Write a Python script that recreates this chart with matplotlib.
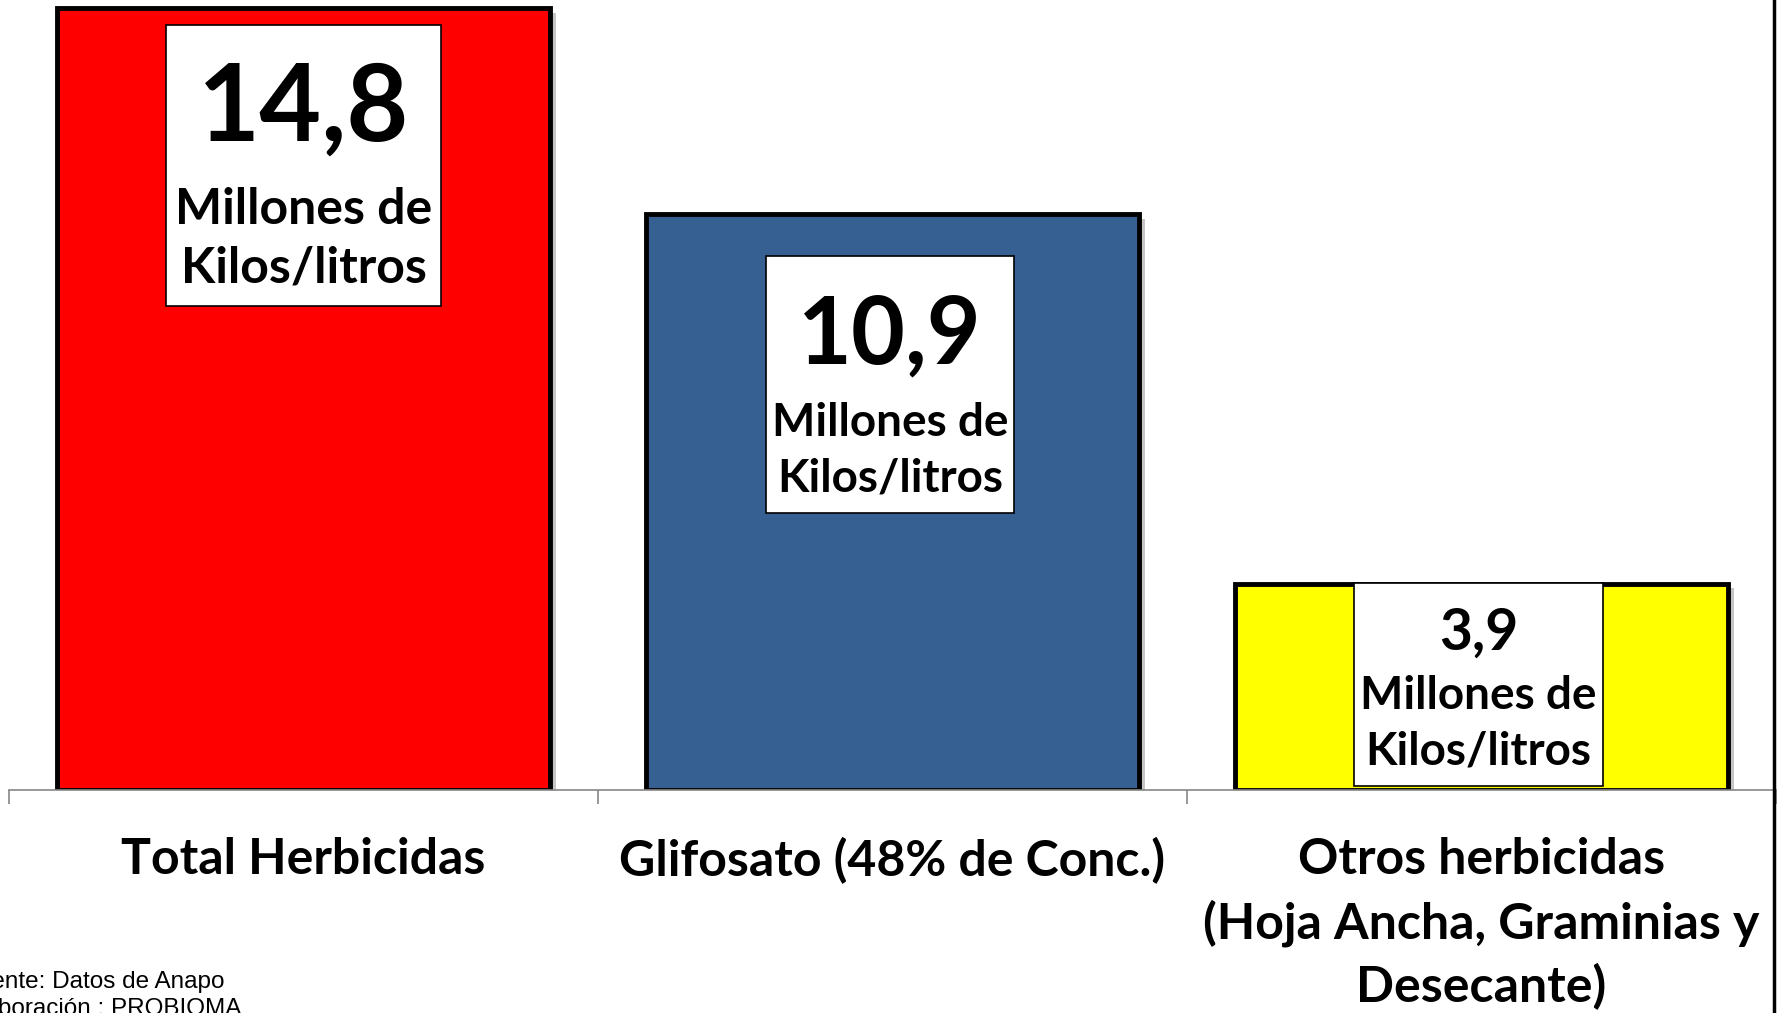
import matplotlib
matplotlib.use('Agg')
import matplotlib.pyplot as plt
import matplotlib.patheffects as pe
from matplotlib.patches import Rectangle
from matplotlib.lines import Line2D

# data (millions of kilos/litres)
categories = ['Total Herbicidas', 'Glifosato (48% de Conc.)',
              'Otros herbicidas\n(Hoja Ancha, Graminias y\nDesecante)']
values = [14.8, 10.9, 3.9]
value_labels = ['14,8', '10,9', '3,9']
unit_label = 'Millones de\nKilos/litros'
colors = ['#FF0000', '#376092', '#FFFF00']

# layout of the white label boxes (data coords): x half-width, y bottom, y top
box_halfw = [0.233, 0.210, 0.211]
box_xshift = [0.0, -0.004, -0.005]
box_y = [(9.17, 14.49), (5.25, 10.11), (0.08, 3.92)]
num_y = [12.89, 8.58, 2.97]
num_size = [77, 67, 41]
unit_y = [10.44, 6.42, 1.25]
unit_size = [36, 33, 33]
unit_spacing = [1.38, 1.40, 1.40]

FONT = 'Lato'

fig = plt.figure(figsize=(17.79, 10.13), dpi=100)
ax = fig.add_axes([9 / 1779, 223 / 1013, 1767 / 1779, 790 / 1013])

x = list(range(len(values)))
bars = ax.bar(x, values, width=0.837, color=colors, edgecolor='black', linewidth=3.5, zorder=2)
for b in bars:
    b.set_path_effects([pe.SimplePatchShadow(offset=(4, -3), shadow_rgbFace='#808080', alpha=0.45),
                        pe.Normal()])

for i in x:
    cx = i + box_xshift[i]
    y0, y1 = box_y[i]
    ax.add_patch(Rectangle((cx - box_halfw[i], y0), 2 * box_halfw[i], y1 - y0,
                           facecolor='white', edgecolor='black', linewidth=1.2, zorder=3))
    ax.text(cx, num_y[i], value_labels[i], ha='center', va='center', fontsize=num_size[i],
            fontweight='bold', family=FONT, zorder=4)
    ax.text(cx, unit_y[i], unit_label, ha='center', va='center', fontsize=unit_size[i],
            fontweight='bold', family=FONT, linespacing=unit_spacing[i], zorder=4)

ax.set_xlim(-0.5, 2.5)
ax.set_ylim(0, 14.96)
ax.set_yticks([])
for s in ['top', 'right', 'left']:
    ax.spines[s].set_visible(False)
ax.spines['bottom'].set_color('#868686')
ax.spines['bottom'].set_linewidth(1.2)

ax.set_xticks([-0.5, 0.5, 1.5, 2.5])
ax.set_xticklabels([])
ax.tick_params(axis='x', which='major', length=10, color='#868686', width=1.2)
ax.set_xticks(x, minor=True)
ax.set_xticklabels(categories, minor=True, fontsize=36, fontweight='bold', family=FONT,
                   linespacing=1.43)
ax.tick_params(axis='x', which='minor', length=0, pad=34)

# right border of the slide
fig.add_artist(Line2D([1774 / 1779, 1774 / 1779], [0, 1], color='black', linewidth=2.5))

# source note, partly cut off at the left edge as in the original slide
fig.text(-37 / 1779, 1 - 971 / 1013, 'Fuente: Datos de Anapo\nElaboración : PROBIOMA',
         fontsize=17.5, family='Liberation Sans', va='top', ha='left', linespacing=1.3)

fig.savefig('out.png', dpi=100)
